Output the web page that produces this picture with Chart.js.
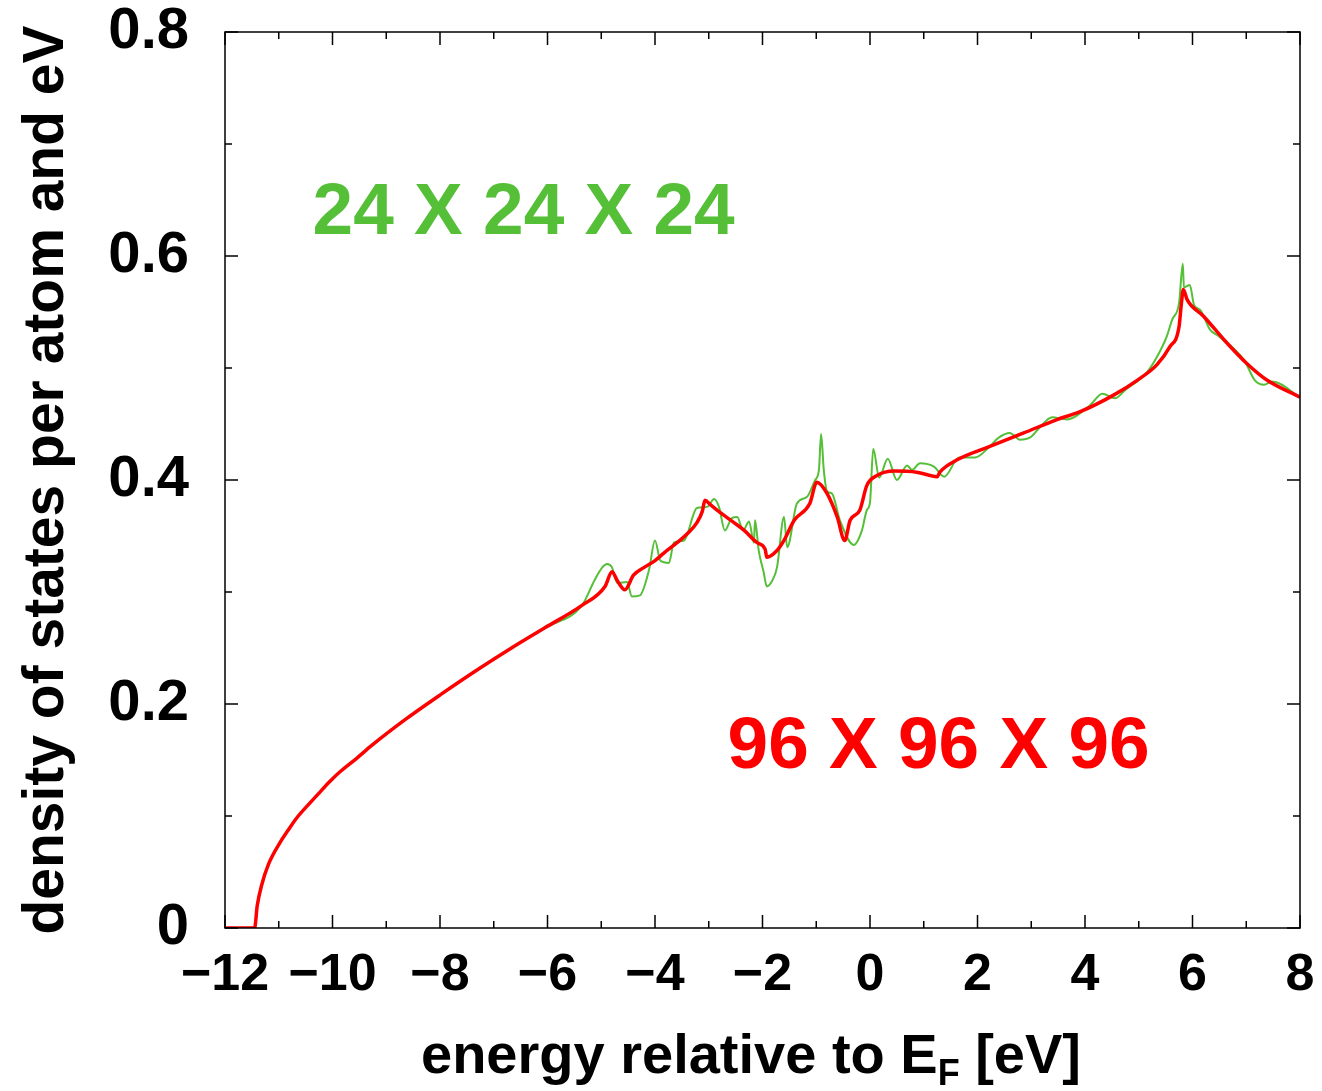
<!DOCTYPE html>
<html>
<head>
<meta charset="utf-8">
<script src="https://cdn.jsdelivr.net/npm/chart.js@4.4.0/dist/chart.umd.min.js"></script>
<style>
  body { margin: 0; background: #fff; }
  #wrap { width: 1322px; height: 1091px; position: relative; }
</style>
</head>
<body>
<div id="wrap"><canvas id="dosChart"></canvas></div>
<script>
// energies (eV, relative to E_F) and DOS
const fineE = [-12, -11.45, -11.40, -11.32, -11.19, -10.98, -10.83, -10.67, -10.47, -10.26, -10.05, -9.86, -9.55, -9.27, -8.65, -7.97, -7.29, -6.67, -6.05, -5.36, -4.93, -4.8, -4.7, -4.56, -4.4, -4.2, -4.0, -3.83, -3.59, -3.4, -3.22, -3.12, -3.07, -2.97, -2.79, -2.53, -2.34, -2.1, -1.95, -1.92, -1.73, -1.6, -1.41, -1.12, -0.99, -0.8, -0.61, -0.47, -0.37, -0.19, -0.06, 0.13, 0.45, 0.87, 1.25, 1.3, 1.62, 2.23, 2.86, 3.48, 3.91, 4.54, 4.97, 5.34, 5.58, 5.75, 5.79, 5.83, 5.9, 6.21, 6.59, 7.01, 7.39, 8];
const fineDos = [0, 0, 0.02, 0.038, 0.057, 0.076, 0.087, 0.098, 0.109, 0.120, 0.1308, 0.1395, 0.1515, 0.163, 0.186, 0.209, 0.231, 0.250, 0.268, 0.288, 0.305, 0.318, 0.31, 0.302, 0.315, 0.322, 0.328, 0.335, 0.344, 0.352, 0.362, 0.372, 0.382, 0.378, 0.371, 0.362, 0.355, 0.344, 0.338, 0.331, 0.337, 0.346, 0.364, 0.379, 0.398, 0.388, 0.367, 0.346, 0.364, 0.373, 0.395, 0.404, 0.408, 0.407, 0.403, 0.407, 0.418, 0.43, 0.442, 0.454, 0.461, 0.476, 0.489, 0.503, 0.519, 0.537, 0.556, 0.57, 0.561, 0.546, 0.525, 0.504, 0.489, 0.474];

const coarseE = [-12, -11.45, -11.40, -11.32, -11.19, -10.98, -10.83, -10.67, -10.47, -10.26, -10.05, -9.86, -9.55, -9.27, -8.65, -7.97, -7.29, -6.67, -6.05, -5.36, -5.12, -4.98, -4.89, -4.8, -4.7, -4.52, -4.43, -4.28, -4.11, -4.0, -3.9, -3.74, -3.65, -3.46, -3.22, -3.03, -2.9, -2.81, -2.7, -2.57, -2.47, -2.36, -2.25, -2.16, -2.14, -2.07, -1.98, -1.92, -1.82, -1.73, -1.6, -1.54, -1.36, -1.17, -1.02, -0.95, -0.91, -0.86, -0.8, -0.71, -0.56, -0.3, -0.15, -0.06, 0, 0.06, 0.17, 0.33, 0.5, 0.69, 0.78, 0.93, 1.19, 1.38, 1.66, 1.95, 2.21, 2.4, 2.6, 2.79, 2.98, 3.14, 3.39, 3.66, 4.1, 4.32, 4.56, 4.74, 5.15, 5.34, 5.52, 5.62, 5.75, 5.82, 5.84, 5.95, 6.03, 6.14, 6.33, 6.5, 6.96, 7.16, 7.33, 7.48, 8];
const coarseDos = [0, 0, 0.02, 0.038, 0.057, 0.076, 0.087, 0.098, 0.109, 0.120, 0.1308, 0.1395, 0.1515, 0.163, 0.186, 0.209, 0.231, 0.250, 0.268, 0.288, 0.311, 0.322, 0.325, 0.322, 0.308, 0.309, 0.296, 0.297, 0.32, 0.346, 0.328, 0.326, 0.344, 0.346, 0.375, 0.376, 0.383, 0.376, 0.355, 0.366, 0.367, 0.355, 0.363, 0.344, 0.364, 0.337, 0.318, 0.305, 0.31, 0.322, 0.367, 0.34, 0.379, 0.385, 0.4, 0.409, 0.441, 0.409, 0.39, 0.388, 0.364, 0.342, 0.355, 0.373, 0.38, 0.428, 0.402, 0.419, 0.4, 0.413, 0.409, 0.415, 0.412, 0.403, 0.42, 0.42, 0.429, 0.438, 0.442, 0.436, 0.438, 0.446, 0.456, 0.454, 0.467, 0.477, 0.473, 0.48, 0.496, 0.51, 0.528, 0.543, 0.558, 0.593, 0.572, 0.574, 0.556, 0.552, 0.534, 0.528, 0.507, 0.489, 0.485, 0.488, 0.474];

const labels = [
  { text: "24 X 24 X 24", e: -10.37, dos: 0.62, color: "#55bf38" },
  { text: "96 X 96 X 96", e: -2.65, dos: 0.143, color: "#ff0000" }
];

const RED = "#ff0000";
const GREEN = "#55bf38";
const BOLD = '"Liberation Sans", Arial, Helvetica, sans-serif';
const NARROW = '"Liberation Sans Narrow", "Liberation Sans", Arial, sans-serif';

function toPoints(xs, ys) {
  return xs.map((x, i) => ({ x: x, y: ys[i] }));
}

function noPad(s) {
  s.paddingTop = 0; s.paddingBottom = 0; s.paddingLeft = 0; s.paddingRight = 0;
}

// frame with inward ticks, axis titles and the two text labels
const decor = {
  id: "decor",
  afterDatasetsDraw(chart) {
    const { ctx, chartArea: a, scales } = chart;
    const xs = scales.x, ys = scales.y;
    ctx.save();
    ctx.strokeStyle = "#000";
    ctx.lineWidth = 1.5;
    ctx.strokeRect(a.left, a.top, a.right - a.left, a.bottom - a.top);
    ctx.beginPath();
    for (let v = -12; v <= 8; v++) {
      const px = xs.getPixelForValue(v);
      const len = v % 2 === 0 ? 13 : 7;
      ctx.moveTo(px, a.bottom); ctx.lineTo(px, a.bottom - len);
      ctx.moveTo(px, a.top); ctx.lineTo(px, a.top + len);
    }
    for (let k = 0; k <= 8; k++) {
      const py = ys.getPixelForValue(k / 10);
      const len = k % 2 === 0 ? 13 : 7;
      ctx.moveTo(a.left, py); ctx.lineTo(a.left + len, py);
      ctx.moveTo(a.right, py); ctx.lineTo(a.right - len, py);
    }
    ctx.stroke();

    // annotations
    ctx.font = "bold 73px " + BOLD;
    ctx.textBaseline = "alphabetic";
    ctx.textAlign = "left";
    labels.forEach(l => {
      ctx.fillStyle = l.color;
      ctx.fillText(l.text, xs.getPixelForValue(l.e), ys.getPixelForValue(l.dos));
    });

    // x title with subscript F
    ctx.fillStyle = "#000";
    const big = "bold 56px " + NARROW;
    const small = "bold 36px " + NARROW;
    const p1 = "energy relative to E", p2 = "F", p3 = " [eV]";
    ctx.font = big;
    const w1 = ctx.measureText(p1).width, w3 = ctx.measureText(p3).width;
    ctx.font = small;
    const w2 = ctx.measureText(p2).width;
    let x0 = 751 - (w1 + w2 + w3) / 2;
    const base = 1073;
    ctx.font = big; ctx.fillText(p1, x0, base);
    ctx.font = small; ctx.fillText(p2, x0 + w1, base + 12);
    ctx.font = big; ctx.fillText(p3, x0 + w1 + w2, base);

    // y title
    ctx.translate(63, (a.top + a.bottom) / 2);
    ctx.rotate(-Math.PI / 2);
    ctx.textAlign = "center";
    ctx.font = "bold 57px " + NARROW;
    ctx.fillText("density of states per atom and eV", 0, 0);
    ctx.restore();
  }
};

const ctx = document.getElementById("dosChart").getContext("2d");

const chart = new Chart(ctx, {
  type: "line",
  data: {
    datasets: [
      { label: "96 X 96 X 96", data: toPoints(fineE, fineDos), borderColor: RED, borderWidth: 3.5, pointRadius: 0, cubicInterpolationMode: "monotone", fill: false },
      { label: "24 X 24 X 24", data: toPoints(coarseE, coarseDos), borderColor: GREEN, borderWidth: 2, pointRadius: 0, cubicInterpolationMode: "monotone", fill: false }
    ]
  },
  options: {
    responsive: true,
    maintainAspectRatio: false,
    animation: false,
    layout: { autoPadding: false, padding: { left: 0, right: 22, top: 32, bottom: 0 } },
    plugins: { legend: { display: false }, tooltip: { enabled: false } },
    scales: {
      x: {
        type: "linear",
        min: -12, max: 8,
        grid: { display: false },
        border: { display: false },
        afterFit: s => { s.height = 163; noPad(s); },
        ticks: {
          stepSize: 2, autoSkip: false, maxRotation: 0, padding: 8,
          color: "#000",
          font: { size: 52, weight: "bold", family: BOLD },
          callback: v => v < 0 ? "\u2212" + Math.abs(v) : String(v)
        }
      },
      y: {
        min: 0, max: 0.8,
        grid: { display: false },
        border: { display: false },
        afterFit: s => { s.width = 225; noPad(s); },
        ticks: {
          stepSize: 0.2, autoSkip: false, padding: 28,
          color: "#000",
          font: { size: 58, weight: "bold", family: BOLD },
          callback: v => v === 0 ? "0" : v.toFixed(1)
        }
      }
    }
  },
  plugins: [decor]
});
</script>
</body>
</html>
